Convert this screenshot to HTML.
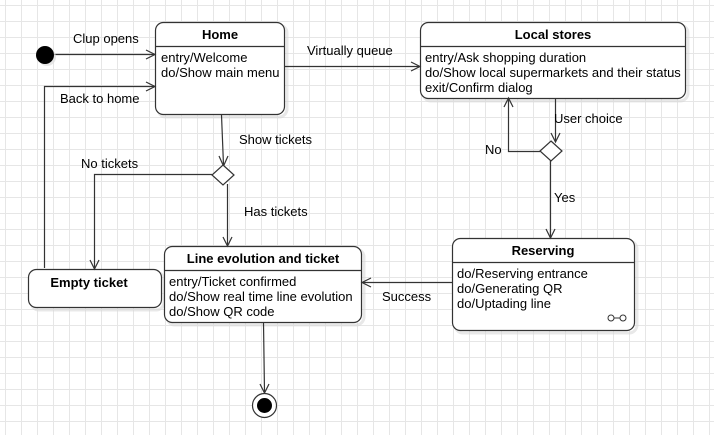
<!DOCTYPE html>
<html><head><meta charset="utf-8"><style>
html,body{margin:0;padding:0;background:#fff;}
svg{display:block;font-family:"Liberation Sans",Arial,sans-serif;font-size:13px;}
</style></head><body>
<svg width="714" height="435" viewBox="0 0 714 435" xmlns="http://www.w3.org/2000/svg">
<defs>
<pattern id="g" width="16" height="16" patternUnits="userSpaceOnUse" x="5" y="5">
<path d="M0 0.5H16M0.5 0V16" stroke="#e6e6e6" stroke-width="1" fill="none"/>
</pattern>
</defs>
<rect width="714" height="435" fill="url(#g)"/>
<g fill="none" stroke="#d9d9d9" stroke-width="3" opacity="0.6">
<rect x="158" y="25" width="129" height="92" rx="8"/>
<rect x="423" y="25" width="265" height="76" rx="8"/>
<rect x="455" y="241" width="182" height="92" rx="8"/>
<rect x="167" y="249" width="197" height="76" rx="8"/>
<rect x="31" y="272" width="133" height="38" rx="8"/>
</g>
<g fill="#fff" stroke="#333" stroke-width="1.2">
<rect x="155.5" y="22.5" width="129" height="92" rx="8"/>
<rect x="420.5" y="22.5" width="265" height="76" rx="8"/>
<rect x="452.5" y="238.5" width="182" height="92" rx="8"/>
<rect x="164.5" y="246.5" width="197" height="76" rx="8"/>
<rect x="28.5" y="269.5" width="133" height="38" rx="8"/>
</g>
<g stroke="#333" stroke-width="1.2" fill="none">
<path d="M155.5 46.5H284.5M420.5 46.5H685.5M452.5 262.5H634.5M164.5 270.5H361.5"/>
<path d="M54 54.5H154M44.5 268V86.5H154M284.5 66.5H419M221.5 115L223.5 165M212 174.5H94.5V268M227.5 184V245M555.5 99V141M540 151.5H508.5V99M550.5 161V237M452 282.5H363M263.5 323L264.5 392"/>
<path d="M146 50L155 54.5L146 59M146 82L155 86.5L146 91M411 62L420 66.5L411 71M219 156L223.5 166L228 156M90 260L94.5 269L99 260M223 237L227.5 246L232 237M551 133L555.5 142L560 133M504 107L508.5 98L513 107M546 229L550.5 238L555 229M371 278L362 282.5L371 287M260 384L264.5 393L269 384"/>
</g>
<polygon points="223,165 234,175 223,185 212,175" fill="#fff" stroke="#333" stroke-width="1.2"/>
<polygon points="551,141 562,151 551,161 540,151" fill="#fff" stroke="#333" stroke-width="1.2"/>
<circle cx="47" cy="57" r="9" fill="#ddd" opacity="0.7"/>
<circle cx="45" cy="55" r="9" fill="#000"/>
<circle cx="264.5" cy="405.5" r="12" fill="#fff" stroke="#333" stroke-width="1.2"/>
<circle cx="264.5" cy="405.5" r="7.5" fill="#000"/>
<g stroke="#333" stroke-width="1" fill="#fff"><circle cx="611" cy="318" r="3"/><circle cx="623" cy="318" r="3"/><path d="M614 318H620"/></g>
<g fill="#000">
<text x="220" y="39" text-anchor="middle" font-weight="bold">Home</text>
<text x="161" y="62">entry/Welcome</text>
<text x="161" y="77">do/Show main menu</text>
<text x="553" y="39" text-anchor="middle" font-weight="bold">Local stores</text>
<text x="425" y="62">entry/Ask shopping duration</text>
<text x="425" y="77">do/Show local supermarkets and their status</text>
<text x="425" y="92">exit/Confirm dialog</text>
<text x="543" y="255" text-anchor="middle" font-weight="bold">Reserving</text>
<text x="457" y="278">do/Reserving entrance</text>
<text x="457" y="293">do/Generating QR</text>
<text x="457" y="308">do/Uptading line</text>
<text x="263" y="263" text-anchor="middle" font-weight="bold">Line evolution and ticket</text>
<text x="169" y="286">entry/Ticket confirmed</text>
<text x="169" y="301">do/Show real time line evolution</text>
<text x="169" y="316">do/Show QR code</text>
<text x="89" y="287" text-anchor="middle" font-weight="bold">Empty ticket</text>
<text x="73" y="43">Clup opens</text>
<text x="60" y="103">Back to home</text>
<text x="307" y="55">Virtually queue</text>
<text x="239" y="144">Show tickets</text>
<text x="81" y="168">No tickets</text>
<text x="244" y="216">Has tickets</text>
<text x="554" y="123">User choice</text>
<text x="485" y="154">No</text>
<text x="554" y="202">Yes</text>
<text x="382" y="301">Success</text>
</g>
</svg>
</body></html>
